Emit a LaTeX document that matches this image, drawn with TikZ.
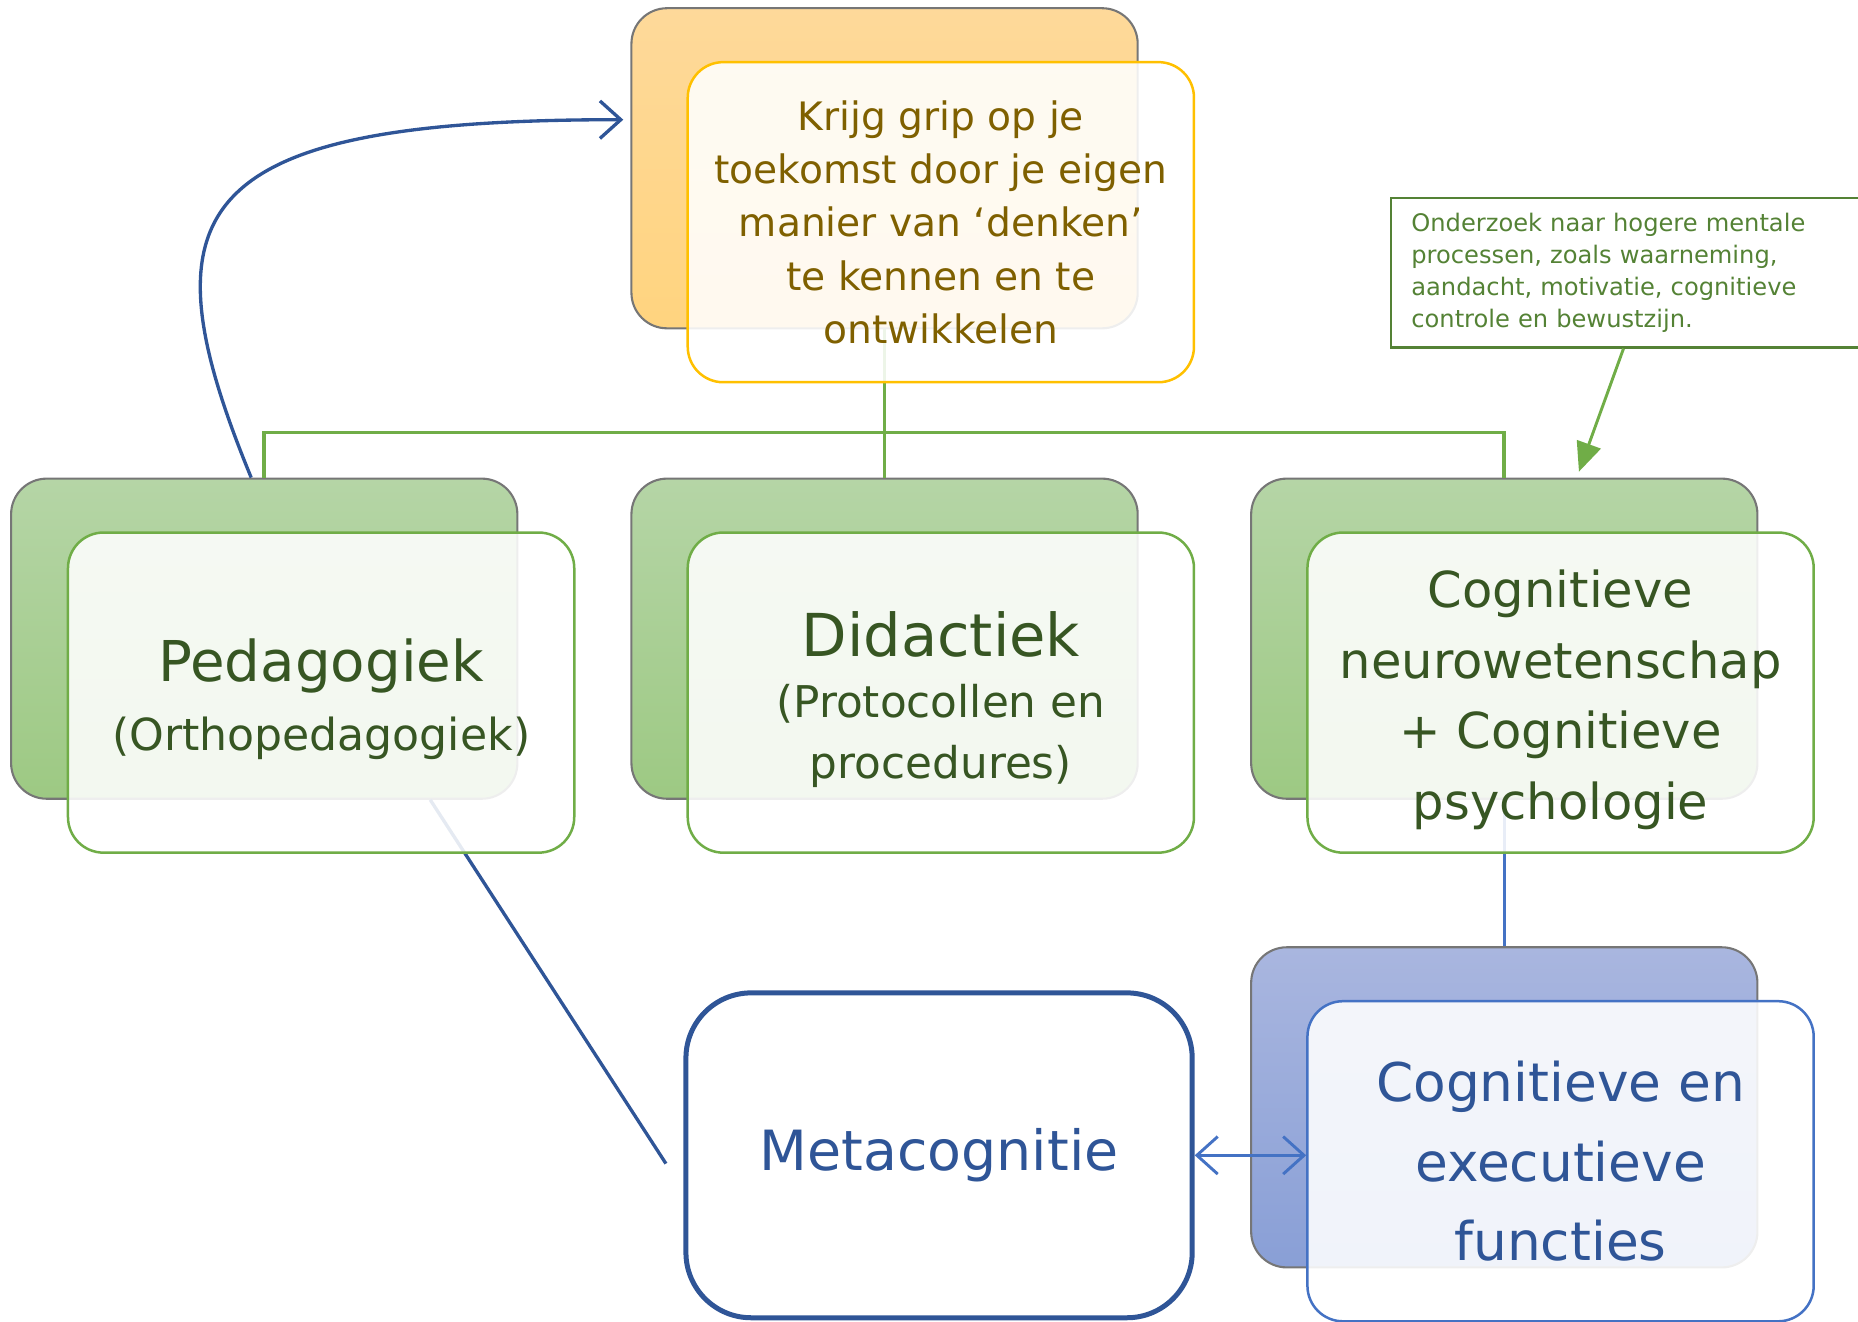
\documentclass[tikz,border=0pt]{standalone}
\usepackage{xcolor}
\usepackage{fontspec}
\setmainfont{DejaVu Sans}
\usepackage{tikz}
\usetikzlibrary{positioning,arrows.meta}

\definecolor{goldLine}{HTML}{FFC000}
\definecolor{brownText}{HTML}{7F6000}
\definecolor{orangeTop}{HTML}{FED99A}
\definecolor{orangeBot}{HTML}{FFD47F}
\definecolor{greenTop}{HTML}{B5D5A6}
\definecolor{greenBot}{HTML}{9DC983}
\definecolor{greenLine}{HTML}{70AD47}
\definecolor{greenText}{HTML}{375623}
\definecolor{noteGreen}{HTML}{548235}
\definecolor{blueTop}{HTML}{A9B6DF}
\definecolor{blueBot}{HTML}{899FD6}
\definecolor{blueLine}{HTML}{4472C4}
\definecolor{darkBlue}{HTML}{2F5597}
\definecolor{backGray}{HTML}{767676}

\begin{document}
\begin{tikzpicture}[x=0.01cm,y=0.01cm,
    back/.style={draw=backGray,line width=0.5pt,rounded corners=0.3cm,
        minimum width=4.27cm,minimum height=2.70cm},
    front/.style={rounded corners=0.3cm,minimum width=4.27cm,minimum height=2.70cm,
        align=center,fill=white,fill opacity=0.88,text opacity=1,line width=0.6pt},
    tree/.style={draw=greenLine,line width=0.9pt},
    blueLink/.style={draw=blueLine,line width=0.7pt},
    darkLink/.style={draw=darkBlue,line width=0.8pt},
    barb/.style={-{Straight Barb[length=5pt,width=9pt]}},
    note/.style={draw=noteGreen,line width=0.6pt,anchor=north west,text=noteGreen,
        align=left,text width=3.9cm,inner xsep=0.17cm,minimum height=1.26cm,
        font=\fontsize{5.8pt}{7.7pt}\selectfont}]
    \useasboundingbox (0,0) rectangle (1568,-1115);

    \node[back,top color=orangeTop,bottom color=orangeBot] (goalBack) at (746.5,-142) {};
    \node[back,top color=greenTop,bottom color=greenBot] (pedaBack) at (223,-539) {};
    \node[back,top color=greenTop,bottom color=greenBot] (didaBack) at (746.5,-539) {};
    \node[back,top color=greenTop,bottom color=greenBot] (cognBack) at (1269.5,-539) {};
    \node[back,top color=blueTop,bottom color=blueBot] (execBack) at (1269.5,-934.5) {};
    \node[draw=darkBlue,line width=1.2pt,fill=white,rounded corners=0.55cm,
        minimum width=4.27cm,minimum height=2.74cm,text=darkBlue,
        font=\fontsize{13.3pt}{16pt}\selectfont] (meta) at (792.5,-975) {Metacognitie};
    \coordinate (metaEnd) at (562,-982);

    % lijnen achter de voorste kaders
    \draw[tree] (goalBack.south) -- ++(0,-87) -| (pedaBack.north);
    \draw[tree] (goalBack.south) -- (didaBack.north);
    \draw[tree] (goalBack.south) -- ++(0,-87) -| (cognBack.north);
    \draw[blueLink] (cognBack.south) -- (execBack.north);
    \draw[darkLink] ([xshift=1.4cm]pedaBack.south) -- (metaEnd);
    \draw[darkLink,barb] ([xshift=-0.11cm]pedaBack.north) .. controls (118,-175) and (160,-101) .. ([shift={(-6,41)}]goalBack.west);

    \node[front,draw=goldLine,text=brownText,
        font=\fontsize{9.4pt}{12.8pt}\selectfont] (goal) at (794,-187.5)
        {Krijg grip op je\\toekomst door je eigen\\manier van ‘denken’\\te kennen en te\\ontwikkelen};
    \node[front,draw=greenLine,text=greenText,
        font=\fontsize{10.6pt}{16.5pt}\selectfont] (peda) at (271,-584.5)
        {{\fontsize{13.5pt}{16.5pt}\selectfont\rule{0pt}{13.3pt}Pedagogiek}\\(Orthopedagogiek)};
    \node[front,draw=greenLine,text=greenText,
        font=\fontsize{10.5pt}{14.6pt}\selectfont] (dida) at (794,-584.5)
        {{\fontsize{14.2pt}{16.5pt}\selectfont\rule{0pt}{14pt}Didactiek}\\(Protocollen en\\procedures)};
    \node[front,draw=greenLine,text=greenText,
        font=\fontsize{11.9pt}{17pt}\selectfont] (cogn) at (1317,-584.5)
        {\rule{0pt}{12.5pt}Cognitieve\\neurowetenschap\\+ Cognitieve\\psychologie};
    \node[front,draw=blueLine,text=darkBlue,
        font=\fontsize{12.8pt}{19pt}\selectfont] (exec) at (1317,-980)
        {Cognitieve en\\executieve\\functies};

    \node[note] (note) at (1173,-166)
        {Onderzoek naar hogere mentale\\processen, zoals waarneming,\\aandacht, motivatie, cognitieve\\controle en bewustzijn.};
    \draw[greenLine,line width=0.7pt,-{Triangle[length=7pt,width=6pt]}] ([xshift=1.97cm]note.south west) -- ([shift={(63,5)}]cognBack.north);
    \draw[blueLink,{Straight Barb[length=5pt,width=9pt]}-{Straight Barb[length=5pt,width=9pt]}] (meta.east) -- (meta.east -| exec.west);
\end{tikzpicture}
\end{document}
